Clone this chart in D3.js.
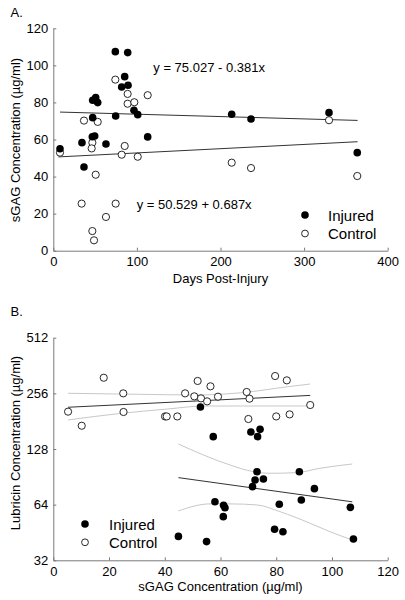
<!DOCTYPE html>
<html><head><meta charset="utf-8">
<script src="https://cdn.jsdelivr.net/npm/d3@7"></script>
<style>
body{margin:0;background:#fff;}
text{font-family:"Liberation Sans",Arial,sans-serif;fill:#000;}
</style></head>
<body><svg id="c" width="405" height="600"></svg>
<script>
// ---------- Panel A data: days post-injury vs sGAG ----------
const injuredDays = [8,34.3,36.7,47.1,50.7,53.1,47.1,46.7,49.5,63,74.2,89,85.4,89.4,81.8,74.6,96.5,101,112.9,213.4,236.5,329.8,363.6];
const injuredSGAG = [55,58.3,45.2,81.2,82.6,79.9,71.8,61.5,61.9,57.6,107.4,106.9,93.9,89.3,88.3,72.7,75.8,73.4,61.4,73.6,71.1,74.5,52.9];
const controlDays = [8,36.7,53.1,46.7,45.9,50.7,33.9,74.6,63,46.7,48.7,74.2,88.9,88.9,96.9,112.9,85.4,81.8,101,213.4,236.5,329.8,363.6];
const controlSGAG = [52.9,70.2,69.5,58.3,55.2,41,25.4,25.4,18.2,10.6,5.6,92.3,84.6,79.3,80.1,83.9,56.5,51.8,50.7,47.5,44.6,70.4,40.3];
const injuredFitA = [[8,74.8],[364,70.3]];
const controlFitA = [[6,50.6],[364,58.8]];
const eqInjured = "y = 75.027 - 0.381x";
const eqControl = "y = 50.529 + 0.687x";
const xTicksA = [0,100,200,300,400];
const yTicksA = [0,20,40,60,80,100,120];

// ---------- Panel B data: sGAG vs lubricin ----------
const injuredSGAGB = [52.8,57.4,70.9,73.3,74.2,73.1,72.4,75.4,71.5,88.3,93.7,58,61.1,61.6,61,81.1,89,106.6,79.4,82.4,44.9,55,107.7];
const injuredLub = [215.9,149.3,158.1,149.3,163.5,96.5,87,88.1,80.1,96.5,78.1,66.4,63.5,61.6,55.1,64.3,67.8,61.9,47.1,45.7,43.1,40.4,41.7];
const controlSGAGB = [5.3,10.2,18.1,25.1,25.2,40.1,40.7,44.5,47.3,50.6,51.8,53,55.2,56.4,59.1,69.4,70.4,70,79.6,80,83.8,84.8,92.2];
const controlLub = [203.8,171,311,256,203,192,192,192,256,246.6,298.7,240.5,231.7,279.4,245.6,260.4,239.6,186,317.6,192,301,197,221.4];
const injuredFitB = [[44.9,89.6],[107.3,66.3]];
const injuredUpperB = [[44.9,136.3],[53.8,118.9],[63.4,104.9],[71.8,96.5],[77.8,94.6],[87.3,95.3],[95.7,100.7],[107.3,106.2]];
const injuredLowerB = [[44.9,59.2],[56.2,64.6],[63.4,64.6],[73,63.8],[81.3,58.7],[92.1,50.8],[99.3,45.7],[107.3,41.2]];
const controlFitB = [[5.3,215.3],[92.2,249.5]];
const controlUpperB = [[5.3,256.2],[30.5,253],[50.8,250.9],[67.6,258.1],[84.3,278.2],[92.2,287.6]];
const controlLowerB = [[5.3,183.8],[24.5,199.7],[40.1,210],[54.4,218.7],[72.4,218.7],[92.2,218.7]];
const xTicksB = [0,20,40,60,80,100,120];
const yTicksB = [32,64,128,256,512];

const svg = d3.select("#c");
const axisColor = "#7a7a7a";
const L = 53.3, R = 387.7;

function styleAxis(g){
  g.select(".domain").attr("stroke",axisColor).attr("stroke-width",1);
  g.selectAll(".tick line").attr("stroke",axisColor);
  g.selectAll(".tick text").attr("font-size",13).attr("font-family","Liberation Sans, Arial, sans-serif").attr("fill","#000");
}

function panel(cfg){
  const g = svg.append("g");
  g.append("g").attr("transform",`translate(0,${cfg.y.range()[0]})`)
    .call(d3.axisBottom(cfg.x).tickValues(cfg.xTicks).tickSizeInner(-3).tickSizeOuter(0).tickPadding(6).tickFormat(d3.format("d")))
    .call(styleAxis);
  g.append("g").attr("transform",`translate(${L},0)`)
    .call(d3.axisLeft(cfg.y).tickValues(cfg.yTicks).tickSizeInner(-3).tickSizeOuter(0).tickPadding(5).tickFormat(d3.format("d")))
    .call(styleAxis);
  return g;
}

// ---------- Panel A ----------
const xA = d3.scaleLinear().domain([0,400]).range([L,R]);
const yA = d3.scaleLinear().domain([0,120]).range([250.7,28.3]);
const gA = panel({x:xA,y:yA,xTicks:xTicksA,yTicks:yTicksA});
const lineA = d3.line().x(d=>xA(d[0])).y(d=>yA(d[1]));
gA.append("path").attr("d",lineA(injuredFitA)).attr("fill","none").attr("stroke","#333").attr("stroke-width",1);
gA.append("path").attr("d",lineA(controlFitA)).attr("fill","none").attr("stroke","#333").attr("stroke-width",1);
gA.selectAll(".ci").data(controlDays.map((d,i)=>[d,controlSGAG[i]])).join("circle")
  .attr("cx",d=>xA(d[0])).attr("cy",d=>yA(d[1])).attr("r",3.6)
  .attr("fill","#fff").attr("stroke","#111").attr("stroke-width",0.9);
gA.selectAll(".ii").data(injuredDays.map((d,i)=>[d,injuredSGAG[i]])).join("circle")
  .attr("cx",d=>xA(d[0])).attr("cy",d=>yA(d[1])).attr("r",3.8).attr("fill","#000");
gA.append("text").attr("x",153.3).attr("y",71.5).attr("font-size",13).text(eqInjured);
gA.append("text").attr("x",136.7).attr("y",208.5).attr("font-size",13).text(eqControl);
gA.append("circle").attr("cx",305).attr("cy",215).attr("r",3.8).attr("fill","#000");
gA.append("circle").attr("cx",305).attr("cy",233.5).attr("r",3.4).attr("fill","#fff").attr("stroke","#111").attr("stroke-width",0.9);
gA.append("text").attr("x",328).attr("y",220.5).attr("font-size",15).text("Injured");
gA.append("text").attr("x",328).attr("y",239).attr("font-size",15).text("Control");
gA.append("text").attr("x",220.5).attr("y",282.5).attr("font-size",13).attr("text-anchor","middle").text("Days Post-Injury");
gA.append("text").attr("transform","translate(19.5,140) rotate(-90)").attr("font-size",13).attr("text-anchor","middle").text("sGAG Concentration (µg/ml)");
gA.append("text").attr("x",10.5).attr("y",16.5).attr("font-size",13).text("A.");

// ---------- Panel B ----------
const xB = d3.scaleLinear().domain([0,120]).range([L,R]);
const yB = d3.scaleLog().base(2).domain([32,512]).range([560.3,337.7]);
const gB = panel({x:xB,y:yB,xTicks:xTicksB,yTicks:yTicksB});
const lineB = d3.line().x(d=>xB(d[0])).y(d=>yB(d[1]));
const curveB = d3.line().x(d=>xB(d[0])).y(d=>yB(d[1])).curve(d3.curveMonotoneX);
[controlUpperB,controlLowerB,injuredUpperB,injuredLowerB].forEach(c=>{
  gB.append("path").attr("d",curveB(c)).attr("fill","none").attr("stroke","#c8c8c8").attr("stroke-width",1);
});
gB.append("path").attr("d",lineB(controlFitB)).attr("fill","none").attr("stroke","#333").attr("stroke-width",1);
gB.append("path").attr("d",lineB(injuredFitB)).attr("fill","none").attr("stroke","#333").attr("stroke-width",1);
gB.selectAll(".cb").data(controlSGAGB.map((d,i)=>[d,controlLub[i]])).join("circle")
  .attr("cx",d=>xB(d[0])).attr("cy",d=>yB(d[1])).attr("r",3.6)
  .attr("fill","#fff").attr("stroke","#111").attr("stroke-width",0.9);
gB.selectAll(".ib").data(injuredSGAGB.map((d,i)=>[d,injuredLub[i]])).join("circle")
  .attr("cx",d=>xB(d[0])).attr("cy",d=>yB(d[1])).attr("r",3.8).attr("fill","#000");
gB.append("circle").attr("cx",85).attr("cy",524).attr("r",3.8).attr("fill","#000");
gB.append("circle").attr("cx",85).attr("cy",542.3).attr("r",3.4).attr("fill","#fff").attr("stroke","#111").attr("stroke-width",0.9);
gB.append("text").attr("x",109).attr("y",529.5).attr("font-size",15).text("Injured");
gB.append("text").attr("x",109).attr("y",547.8).attr("font-size",15).text("Control");
gB.append("text").attr("x",220.5).attr("y",590.5).attr("font-size",13).attr("text-anchor","middle").text("sGAG Concentration (µg/ml)");
gB.append("text").attr("transform","translate(19.5,443) rotate(-90)").attr("font-size",13).attr("text-anchor","middle").text("Lubricin Concentration (µg/ml)");
gB.append("text").attr("x",10.5).attr("y",316).attr("font-size",13).text("B.");
</script></body></html>
